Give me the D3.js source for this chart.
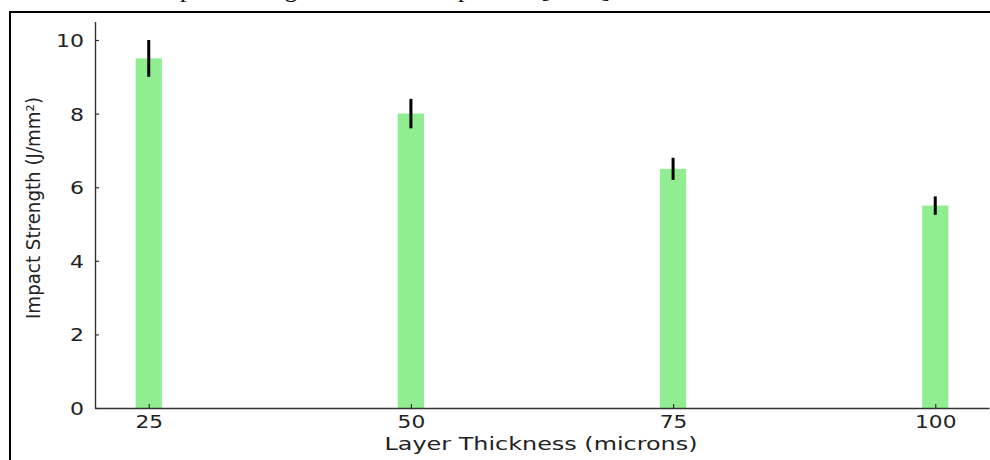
<!DOCTYPE html>
<html>
<head>
<meta charset="utf-8">
<script src="https://cdn.jsdelivr.net/npm/d3@7"></script>
<style>
  body { margin: 0; background: #fff; }
  svg { display: block; }
  text { font-family: "DejaVu Sans", sans-serif; fill: #222; }
</style>
</head>
<body>
<div class="container"></div>
<script>
// chart data
const thickness = [25, 50, 75, 100];
const strength = [9.5, 8.0, 6.5, 5.5];
const errors = [0.5, 0.4, 0.3, 0.25];
const yTicks = [0, 2, 4, 6, 8, 10];

const width = 990;
const height = 460;

const svg = d3.select(".container")
  .append("svg")
  .attr("width", width)
  .attr("height", height);

// caption above the frame, mostly cropped away in the source picture
svg.append("text")
  .attr("x", 151)
  .attr("y", -3)
  .style("font-family", "'Liberation Serif', serif")
  .style("font-size", "26px")
  .style("fill", "#111")
  .text("Impact Strength Results Comparison [2023]");

// outer frame (only top and left edges are inside the picture)
svg.append("path")
  .attr("d", "M10,460 V12 H990")
  .attr("fill", "none")
  .attr("stroke", "#000")
  .attr("stroke-width", 2);

// scales
const x = d3.scaleLinear().domain([19.875, 105.125]).range([95, 989]);
const y = d3.scaleLinear().domain([0, 10.5]).range([408, 21.6]);
const barW = x(25 + 1.25) - x(25 - 1.25);

const data = thickness.map((t, i) => ({ t: t, v: strength[i], e: errors[i] }));

// bars
svg.append("g")
  .selectAll("rect")
  .data(data)
  .enter()
  .append("rect")
  .attr("x", (d) => x(d.t) - barW / 2)
  .attr("y", (d) => y(d.v))
  .attr("width", barW)
  .attr("height", (d) => y(0) - y(d.v))
  .attr("fill", "#90ee90");

// error bars
svg.append("g")
  .selectAll("line")
  .data(data)
  .enter()
  .append("line")
  .attr("x1", (d) => x(d.t))
  .attr("x2", (d) => x(d.t))
  .attr("y1", (d) => y(d.v + d.e))
  .attr("y2", (d) => y(d.v - d.e))
  .attr("stroke", "#000")
  .attr("stroke-width", 3);

// x axis, ticks point inwards
const xAxis = svg.append("g")
  .attr("transform", "translate(0," + y(0) + ")")
  .call(d3.axisBottom(x).tickValues(thickness).tickSize(-4).tickSizeOuter(0).tickPadding(0).tickFormat(d3.format("d")));
xAxis.select(".domain").attr("stroke", "#333").attr("stroke-width", 1.4);
xAxis.selectAll(".tick line").attr("stroke", "#333").attr("stroke-width", 1.2);
xAxis.selectAll(".tick text")
  .attr("y", 20)
  .attr("dy", 0)
  .style("font-size", "18px")
  .attr("textLength", (d) => String(d).length * 13.8)
  .attr("lengthAdjust", "spacingAndGlyphs");

// y axis
const yAxis = svg.append("g")
  .attr("transform", "translate(" + x(19.875) + ",0)")
  .call(d3.axisLeft(y).tickValues(yTicks).tickSize(-4).tickSizeOuter(0).tickPadding(0).tickFormat(d3.format("d")));
yAxis.select(".domain").attr("stroke", "#333").attr("stroke-width", 1.4);
yAxis.selectAll(".tick line").attr("stroke", "#333").attr("stroke-width", 1.2);
yAxis.selectAll(".tick text")
  .attr("x", -11)
  .attr("dy", "0.36em")
  .style("font-size", "18px")
  .attr("textLength", (d) => String(d).length * 14)
  .attr("lengthAdjust", "spacingAndGlyphs");

// axis titles
svg.append("text")
  .attr("x", 541)
  .attr("y", 450)
  .attr("text-anchor", "middle")
  .style("font-size", "18px")
  .attr("textLength", 313)
  .attr("lengthAdjust", "spacingAndGlyphs")
  .text("Layer Thickness (microns)");

svg.append("text")
  .attr("transform", "translate(40,208) rotate(-90)")
  .attr("text-anchor", "middle")
  .style("font-size", "19px")
  .attr("textLength", 222)
  .attr("lengthAdjust", "spacingAndGlyphs")
  .text("Impact Strength (J/mm²)");
</script>
</body>
</html>
